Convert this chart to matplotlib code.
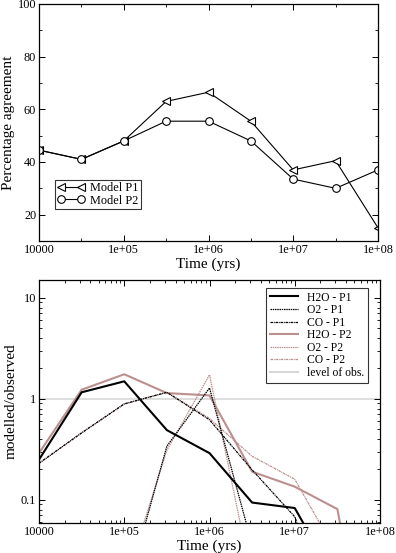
import numpy as np
import matplotlib
matplotlib.use("Agg")
import matplotlib.pyplot as plt
from matplotlib.ticker import FixedLocator, FixedFormatter, NullFormatter, LogLocator

plt.rcParams['font.family'] = ['Liberation Serif', 'DejaVu Serif']

# ---- data ----
time_yrs = [1e4, 10**4.5, 1e5, 10**5.5, 1e6, 10**6.5, 1e7, 10**7.5, 1e8]
model_p1 = [44.5, 41, 48, 63, 66.5, 55.5, 37, 40.5, 15]
model_p2 = [44.5, 41, 48, 55.5, 55.5, 48, 33.5, 30, 37]

h2o_p1 = [0.25, 1.16, 1.49, 0.49, 0.29, 0.094, 0.083, 0.015, 0.002]
o2_p1 = [0.0001, 0.001, 0.0104, 0.34, 1.28, 0.036, 0.001, 0.0001, 0.0001]
co_p1 = [0.23, 0.46, 0.89, 1.16, 0.62, 0.198, 0.068, 0.005, 0.001]
h2o_p2 = [0.29, 1.23, 1.75, 1.14, 1.08, 0.19, 0.135, 0.081, 0.0005]
o2_p2 = [0.0001, 0.001, 0.0144, 0.31, 1.73, 0.016, 0.001, 0.0001, 0.0001]
co_p2 = [0.23, 0.46, 0.89, 1.16, 0.64, 0.27, 0.16, 0.029, 0.002]
obs_level = 1.0

xtick_vals = [1e4, 1e5, 1e6, 1e7, 1e8]
xtick_labels = ["10000", "1e+05", "1e+06", "1e+07", "1e+08"]
ytick_top = [20, 40, 60, 80, 100]
ytick_bot = [0.1, 1, 10]
ytick_bot_labels = ["0.1", "1", "10"]

rosy = '#bc8f8f'

fig = plt.figure(figsize=(3.96, 5.53), dpi=100)
ax1 = fig.add_axes([39/396, 1-241/553, (378-39)/396, (241-4)/553])
ax2 = fig.add_axes([39/396, 1-523/553, (380-39)/396, (523-280)/553])

# top panel
ax1.plot(time_yrs, model_p1, color='black', lw=0.8, marker='<', ms=5.5,
         mfc='white', mec='black', mew=0.8, label='Model P1')
ax1.plot(time_yrs, model_p2, color='black', lw=0.8, marker='o', ms=5.5,
         mfc='white', mec='black', mew=0.8, label='Model P2')
ax1.set_xscale('log')
ax1.set_xlim(1e4, 1e8)
ax1.set_ylim(10, 100)
ax1.xaxis.set_major_locator(FixedLocator(xtick_vals))
ax1.xaxis.set_major_formatter(FixedFormatter(xtick_labels))
ax1.xaxis.set_minor_locator(FixedLocator([10**4.5, 10**5.5, 10**6.5, 10**7.5]))
ax1.xaxis.set_minor_formatter(NullFormatter())
ax1.yaxis.set_major_locator(FixedLocator(ytick_top))
ax1.yaxis.set_minor_locator(FixedLocator([10, 30, 50, 70, 90]))
ax1.set_xlabel('Time (yrs)', fontsize=11, labelpad=1)
ax1.set_ylabel('Percentage agreement', fontsize=11, labelpad=2)
leg1 = ax1.legend(loc='lower left', bbox_to_anchor=(0.047, 0.135), numpoints=2,
                  fontsize=8.8, frameon=True, fancybox=False, handlelength=2.2,
                  borderpad=0.2, labelspacing=0.05, handletextpad=0.45,
                  borderaxespad=0)
leg1.get_frame().set_edgecolor('black')
leg1.get_frame().set_linewidth(0.8)

# bottom panel
ax2.axhline(obs_level, color='#d8d8d8', lw=1.2, zorder=1)
ax2.plot(time_yrs, h2o_p1, color='black', lw=1.5, label='H2O - P1', zorder=3)
ax2.plot(time_yrs, o2_p1, color='black', lw=0.9, ls=(0, (1.2, 0.6)), label='O2 - P1', zorder=3)
ax2.plot(time_yrs, co_p1, color='black', lw=0.9, ls=(0, (2.0, 0.6, 0.8, 0.6)), label='CO - P1', zorder=3)
ax2.plot(time_yrs, h2o_p2, color=rosy, lw=1.5, label='H2O - P2', zorder=2)
ax2.plot(time_yrs, o2_p2, color=rosy, lw=0.9, ls=(0, (1.2, 0.6)), label='O2 - P2', zorder=2)
ax2.plot(time_yrs, co_p2, color=rosy, lw=0.9, ls=(0, (2.0, 0.6, 0.8, 0.6)), label='CO - P2', zorder=2)
ax2.plot([], [], color='#d8d8d8', lw=1.5, label='level of obs.')
ax2.set_xscale('log')
ax2.set_yscale('log')
ax2.set_xlim(1e4, 1e8)
ax2.set_ylim(0.059, 15)
ax2.xaxis.set_major_locator(FixedLocator(xtick_vals))
ax2.xaxis.set_major_formatter(FixedFormatter(xtick_labels))
ax2.xaxis.set_minor_locator(LogLocator(base=10, subs=np.arange(2, 10)))
ax2.xaxis.set_minor_formatter(NullFormatter())
ax2.yaxis.set_major_locator(FixedLocator(ytick_bot))
ax2.yaxis.set_major_formatter(FixedFormatter(ytick_bot_labels))
ax2.yaxis.set_minor_locator(LogLocator(base=10, subs=np.arange(2, 10)))
ax2.yaxis.set_minor_formatter(NullFormatter())
ax2.set_xlabel('Time (yrs)', fontsize=11, labelpad=1)
ax2.set_ylabel('modelled/observed', fontsize=11, labelpad=2)
leg2 = ax2.legend(loc='upper right', bbox_to_anchor=(0.965, 0.967), fontsize=8.4,
                  frameon=True, fancybox=False, handlelength=2.4, borderpad=0.3,
                  labelspacing=0.05, handletextpad=0.8, borderaxespad=0)
leg2.get_frame().set_edgecolor('black')
leg2.get_frame().set_linewidth(0.8)

for ax in (ax1, ax2):
    ax.tick_params(which='both', direction='in', top=True, right=True, labelsize=8.8, pad=2)
    ax.tick_params(which='major', length=4, width=0.7)
    ax.tick_params(which='minor', length=2, width=0.6)
    for s in ax.spines.values():
        s.set_linewidth(0.9)

fig.savefig('out.png', dpi=100)
